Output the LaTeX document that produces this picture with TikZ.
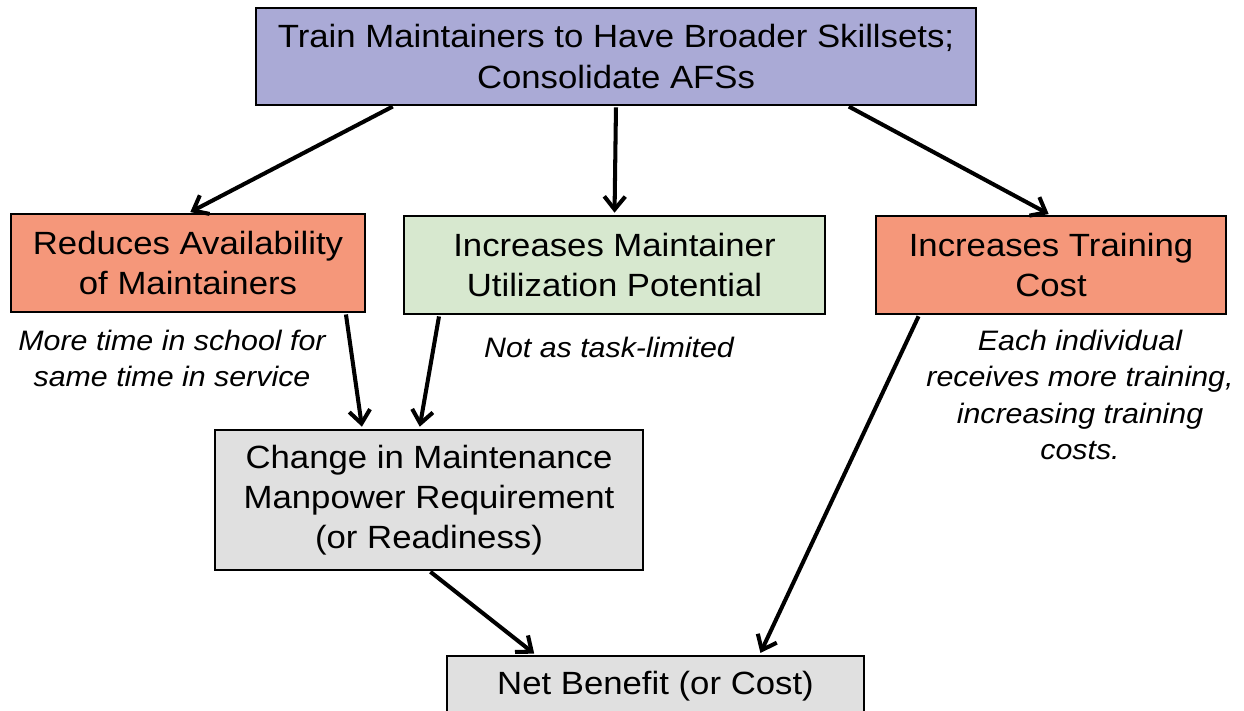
\documentclass[tikz,border=0pt]{standalone}
\usepackage{fontspec}
\setmainfont{Liberation Sans}[FakeStretch=1.08]
\usepackage[svgnames, dvipsnames]{xcolor}
\usetikzlibrary{calc, positioning, arrows.meta}
\tikzset{>={Straight Barb[length=2.6mm,width=4.2mm]}}

\definecolor{topblue}{RGB}{170,170,214}
\definecolor{effred}{RGB}{245,151,122}
\definecolor{effgreen}{RGB}{215,232,207}
\definecolor{resgrey}{RGB}{224,224,224}

\tikzset{
  box/.style={draw=black, line width=0.8pt, align=center, inner sep=0pt,
    font=\fontsize{18.3}{22.8}\selectfont},
  note/.style={align=center, font=\fontsize{16}{20.8}\selectfont\itshape},
  link/.style={->, line width=2.3pt, shorten <=1pt, shorten >=1.5pt}}

\begin{document}
\begin{tikzpicture}
    \useasboundingbox (0,0) rectangle (24.88,-14.2);
    % boxes
    \node [box, fill=topblue, minimum width=14.4cm, minimum height=1.94cm] (train) at (12.32,-1.13)
        {Train Maintainers to Have Broader Skillsets;\\ Consolidate AFSs};
    \node [box, fill=effred, minimum width=7.08cm, minimum height=1.96cm] (avail) at (3.76,-5.26)
        {Reduces Availability\\ of Maintainers};
    \node [box, fill=effgreen, minimum width=8.42cm, minimum height=1.96cm] (util) at (12.29,-5.30)
        {Increases Maintainer\\ Utilization Potential};
    \node [box, fill=effred, minimum width=7.0cm, minimum height=1.96cm] (cost) at (21.02,-5.30)
        {Increases Training\\ Cost};
    \node [box, fill=resgrey, minimum width=8.56cm, minimum height=2.8cm] (change) at (8.58,-10.0)
        {Change in Maintenance\\ Manpower Requirement\\ (or Readiness)};
    \node [box, fill=resgrey, minimum width=8.34cm, minimum height=1.2cm] (net) at (13.11,-13.72)
        {Net Benefit (or Cost)};
    % notes
    \node [note] (schoolnote) at (3.44,-7.17) {More time in school for\\ same time in service};
    \node [note] (tasknote) at (12.18,-6.94) {Not as task-limited};
    \node [note] (costnote) at (21.6,-7.9) {Each individual\\ receives more training,\\ increasing training\\ costs.};
    % arrows
    \draw [link] ([xshift=2.78cm]train.south west) -- (avail.north);
    \draw [link] (train.south) -- (util.north);
    \draw [link] ([xshift=11.84cm]train.south west) -- (cost.north);
    \draw [link] ([xshift=-0.4cm]avail.south east) -- ([xshift=2.96cm]change.north west);
    \draw [link] ([xshift=0.72cm]util.south west) -- ([xshift=4.1cm]change.north west);
    \draw [link] (change.south) -- ([xshift=1.8cm]net.north west);
    \draw [link] ([xshift=0.88cm]cost.south west) -- ([xshift=6.26cm]net.north west);
\end{tikzpicture}
\end{document}
